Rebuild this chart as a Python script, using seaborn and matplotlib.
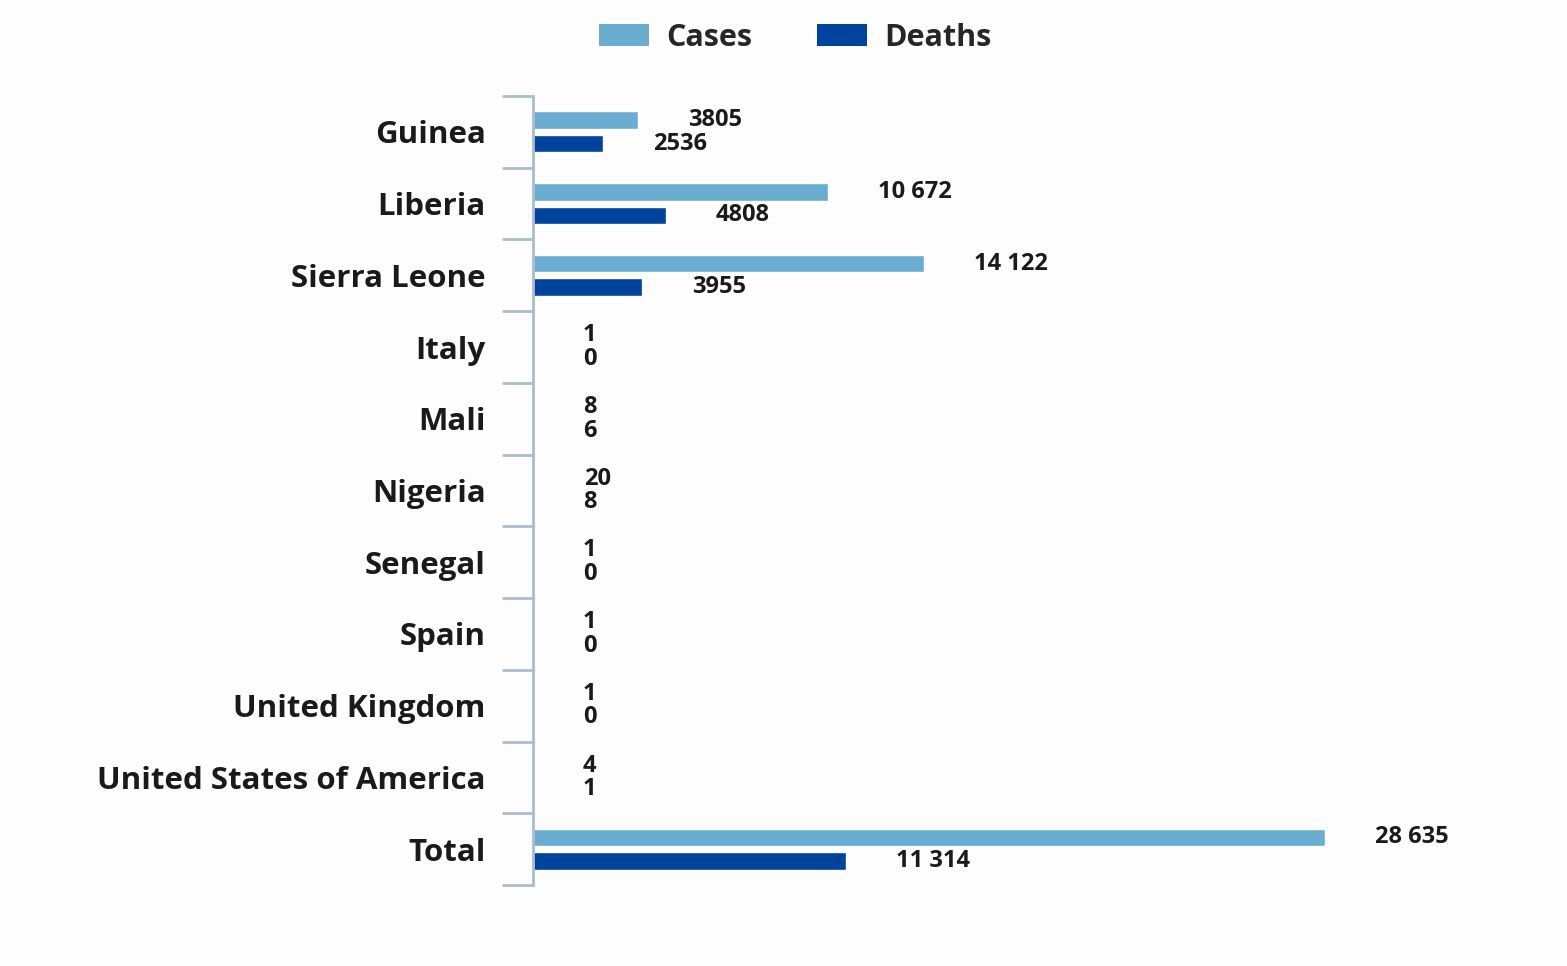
import matplotlib
matplotlib.use("Agg")
import matplotlib.pyplot as plt
import seaborn as sns
import pandas as pd
from matplotlib.ticker import FixedLocator
from matplotlib.patches import Patch

countries = ["Guinea", "Liberia", "Sierra Leone", "Italy", "Mali", "Nigeria",
             "Senegal", "Spain", "United Kingdom", "United States of America", "Total"]
cases = [3805, 10672, 14122, 1, 8, 20, 1, 1, 1, 4, 28635]
deaths = [2536, 4808, 3955, 0, 6, 8, 0, 0, 0, 1, 11314]
series = ["Cases", "Deaths"]
colors = {"Cases": "#6AADD0", "Deaths": "#00439C"}

df = pd.DataFrame({
    "country": countries * 2,
    "value": cases + deaths,
    "measure": ["Cases"] * len(countries) + ["Deaths"] * len(countries),
})

sns.set_theme(style="white")
plt.rcParams["font.family"] = ["Open Sans", "DejaVu Sans"]
plt.rcParams["font.weight"] = "bold"

fig = plt.figure(figsize=(15.67, 9.66), dpi=100, facecolor="#FDFDFD")
ax = fig.add_axes([533 / 1567, 1 - 885 / 966, 1007 / 1567, (885 - 96) / 966])
ax.set_facecolor("#FDFDFD")

sns.barplot(data=df, y="country", x="value", hue="measure", order=countries,
            hue_order=series, palette=colors, orient="h", width=0.656, gap=0.25,
            saturation=1, ax=ax, legend=False)

def fmt(v):
    return f"{v:,}".replace(",", " ") if v >= 10000 else str(v)

for cont, vals in zip(ax.containers, [cases, deaths]):
    ax.bar_label(cont, labels=[fmt(v) for v in vals], padding=36,
                 fontsize=17, fontweight="bold", color="#1a1a1a")

ax.set_xlim(0, 36410)
ax.set_ylim(len(countries) - 0.5, -0.5)
ax.set_xlabel("")
ax.set_ylabel("")
ax.set_xticks([])
for s in ["top", "right", "bottom"]:
    ax.spines[s].set_visible(False)
ax.spines["left"].set_color("#A9BCD0")
ax.spines["left"].set_linewidth(2)

ax.yaxis.set_minor_locator(FixedLocator([i - 0.5 for i in range(len(countries) + 1)]))
ax.tick_params(axis="y", which="minor", length=22, width=2, color="#A9BCD0", left=True)
ax.tick_params(axis="y", which="major", length=0, pad=34, labelsize=22.5)
for lbl in ax.get_yticklabels():
    lbl.set_fontweight("bold")
    lbl.set_color("#1a1a1a")

handles = [Patch(facecolor=colors[s], edgecolor="none", label=s) for s in series]
fig.legend(handles=handles, loc="center", bbox_to_anchor=(795 / 1567, 1 - 38 / 966),
           ncol=2, frameon=False, prop={"size": 22, "weight": "bold"},
           handlelength=1.64, handleheight=0.72, handletextpad=0.56, columnspacing=2.13)

fig.savefig("out.png", dpi=100, facecolor=fig.get_facecolor())
